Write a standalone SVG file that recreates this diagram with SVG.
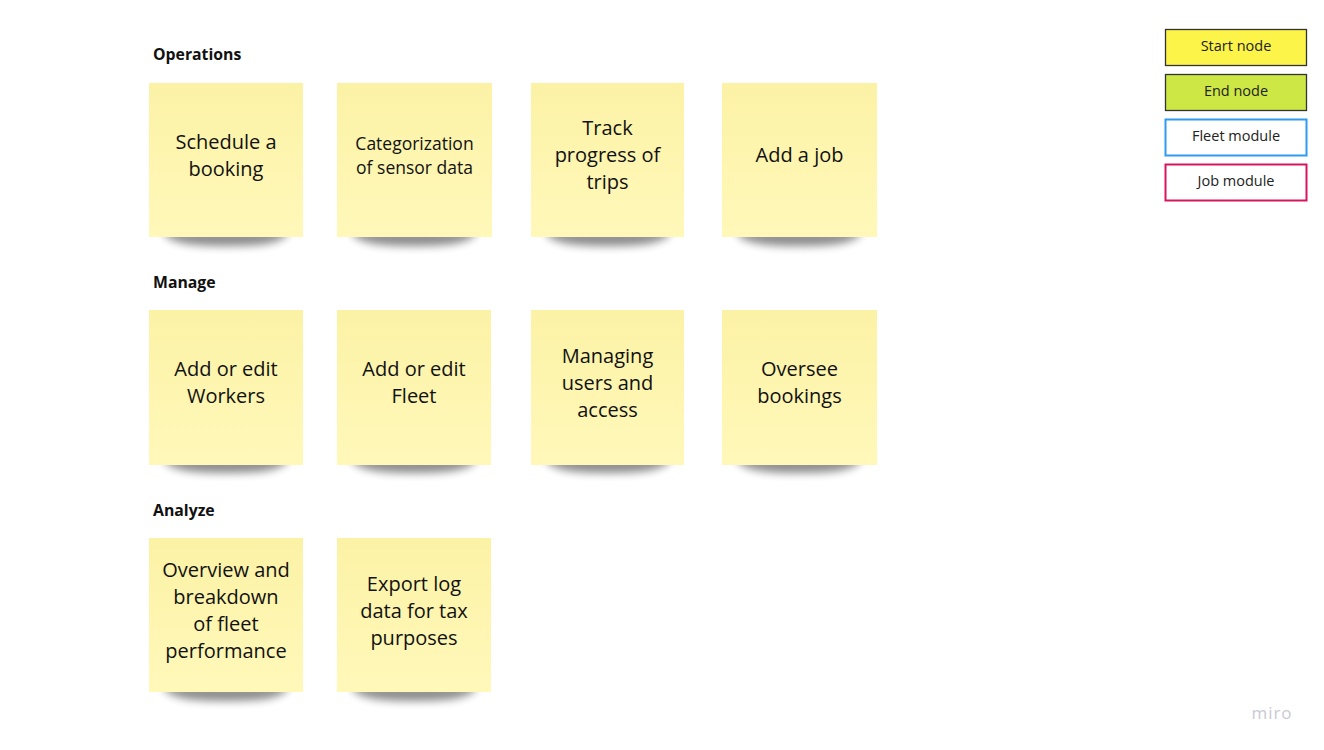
<svg xmlns="http://www.w3.org/2000/svg" width="1324" height="750" viewBox="0 0 1324 750">
<style>
.hd{font-family:"Open Sans","Liberation Sans",sans-serif;font-weight:bold;font-size:15.8px;fill:#111}
.nt{font-family:"Open Sans","Liberation Sans",sans-serif;font-size:20px;fill:#111;text-anchor:middle}
.nts{font-family:"Open Sans","Liberation Sans",sans-serif;font-size:17.5px;fill:#111;text-anchor:middle}
.lg{font-family:"Open Sans","Liberation Sans",sans-serif;font-size:14.5px;fill:#222;text-anchor:middle}
.note{fill:url(#ng)}
.sh{fill:#000;opacity:0.45;filter:url(#blur)}
</style>
<defs>
<linearGradient id="ng" x1="0" y1="0" x2="0" y2="1">
<stop offset="0" stop-color="#fcf2a6"/>
<stop offset="1" stop-color="#fff8b9"/>
</linearGradient>
<filter id="blur" x="-20%" y="-200%" width="140%" height="500%"><feGaussianBlur stdDeviation="4.5"/></filter>
<g id="shadow"><path class="sh" d="M14,148 L140,148 Q136,164 77,163 Q18,164 14,148 Z"/></g>
</defs>
<rect width="1324" height="750" fill="#fff"/>
<text class="hd" x="153" y="60">Operations</text>
<text class="hd" x="153" y="288">Manage</text>
<text class="hd" x="153" y="516">Analyze</text>

<g id="n1" transform="translate(149,83)"><use href="#shadow"/><rect class="note" width="154" height="154"/><text class="nt" x="77" y="66">Schedule a</text><text class="nt" x="77" y="93">booking</text></g>
<g id="n2" transform="translate(337,83)"><use href="#shadow"/><rect class="note" width="155" height="154"/><text class="nts" x="77.5" y="67">Categorization</text><text class="nts" x="77.5" y="91">of sensor data</text></g>
<g id="n3" transform="translate(531,83)"><use href="#shadow"/><rect class="note" width="153" height="154"/><text class="nt" x="76.5" y="52">Track</text><text class="nt" x="76.5" y="79">progress of</text><text class="nt" x="76.5" y="106">trips</text></g>
<g id="n4" transform="translate(722,83)"><use href="#shadow"/><rect class="note" width="155" height="154"/><text class="nt" x="77.5" y="79">Add a job</text></g>

<g id="n5" transform="translate(149,310)"><use href="#shadow"/><rect class="note" width="154" height="155"/><text class="nt" x="77" y="66">Add or edit</text><text class="nt" x="77" y="93">Workers</text></g>
<g id="n6" transform="translate(337,310)"><use href="#shadow"/><rect class="note" width="154" height="155"/><text class="nt" x="77" y="66">Add or edit</text><text class="nt" x="77" y="93">Fleet</text></g>
<g id="n7" transform="translate(531,310)"><use href="#shadow"/><rect class="note" width="153" height="155"/><text class="nt" x="76.5" y="53">Managing</text><text class="nt" x="76.5" y="80">users and</text><text class="nt" x="76.5" y="107">access</text></g>
<g id="n8" transform="translate(722,310)"><use href="#shadow"/><rect class="note" width="155" height="155"/><text class="nt" x="77.5" y="66">Oversee</text><text class="nt" x="77.5" y="93">bookings</text></g>

<g id="n9" transform="translate(149,538)"><use href="#shadow"/><rect class="note" width="154" height="154"/><text class="nt" x="77" y="39">Overview and</text><text class="nt" x="77" y="66">breakdown</text><text class="nt" x="77" y="93">of fleet</text><text class="nt" x="77" y="120">performance</text></g>
<g id="n10" transform="translate(337,538)"><use href="#shadow"/><rect class="note" width="154" height="154"/><text class="nt" x="77" y="53">Export log</text><text class="nt" x="77" y="80">data for tax</text><text class="nt" x="77" y="107">purposes</text></g>

<g id="connectors"></g>

<g id="legend-start"><rect x="1165.5" y="29.5" width="141" height="36" fill="#fcf449" stroke="#333" stroke-width="1.3"/><text class="lg" x="1236" y="51">Start node</text></g>
<g id="legend-end"><rect x="1165.5" y="74.5" width="141" height="36" fill="#cde745" stroke="#333" stroke-width="1.3"/><text class="lg" x="1236" y="96">End node</text></g>
<g id="legend-fleet"><rect x="1165.5" y="119.5" width="141" height="36" fill="#fff" stroke="#2d9bf0" stroke-width="2"/><text class="lg" x="1236" y="141">Fleet module</text></g>
<g id="legend-job"><rect x="1165.5" y="164.5" width="141" height="36" fill="#fff" stroke="#d8145f" stroke-width="2"/><text class="lg" x="1236" y="186">Job module</text></g>

<text x="1272" y="719" font-family="Open Sans, Liberation Sans, sans-serif" font-size="17" fill="#c9c9d4" text-anchor="middle" letter-spacing="1">miro</text>
</svg>
